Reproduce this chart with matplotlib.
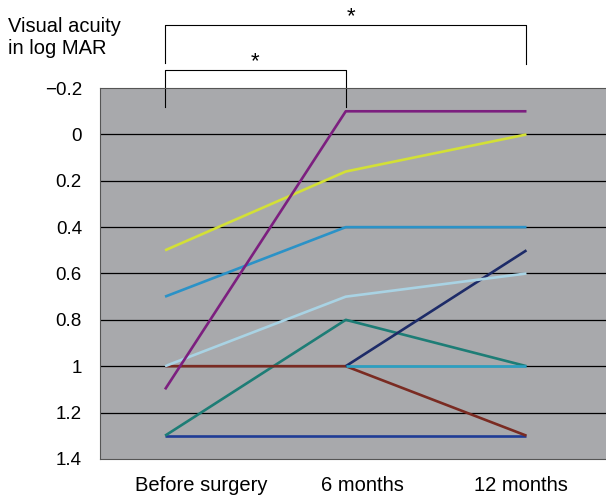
import numpy as np
import matplotlib.pyplot as plt

plt.rcParams["font.family"] = ["Liberation Sans", "DejaVu Sans"]

# time points
categories = ["Before surgery", "6 months", "12 months"]
label_pos = [0.2, 1.09, 1.97]  # labels sit a little off the data columns

# logMAR per eye (nan = not drawn)
purple = [1.1, -0.1, -0.1]
yellow = [0.5, 0.16, 0.0]
blue = [0.7, 0.4, 0.4]
light_blue = [1.0, 0.7, 0.6]
teal = [1.3, 0.8, 1.0]
brown = [1.0, 1.0, 1.3]
navy = [np.nan, 1.0, 0.5]
cyan = [np.nan, 1.0, 1.0]
dark_blue = [1.3, 1.3, 1.3]

yticks = [-0.2, 0, 0.2, 0.4, 0.6, 0.8, 1, 1.2, 1.4]
ytick_labels = ["\u22120.2", "0", "0.2", "0.4", "0.6", "0.8", "1", "1.2", "1.4"]

series = [
    (dark_blue, "#1f3c96"),
    (teal, "#1d7d76"),
    (brown, "#7a2b22"),
    (navy, "#1d2b68"),
    (cyan, "#2aa0c2"),
    (light_blue, "#a9d3e4"),
    (blue, "#2b92c7"),
    (yellow, "#d3e036"),
    (purple, "#7c1f7f"),
]

fig = plt.figure(figsize=(6.06, 4.95), dpi=100)
ax = fig.add_axes([0.165, 0.073, 0.835, 0.749])
ax.set_facecolor("#a8a9ac")

x = np.arange(len(categories))
for vals, col in series:
    ax.plot(x, vals, color=col, lw=1.9, solid_capstyle="butt", zorder=3)

ax.set_ylim(1.4, -0.2)
ax.set_xlim(-0.36, 2.44)
ax.set_yticks(yticks)
ax.set_yticklabels(ytick_labels)
ax.set_xticks(label_pos)
ax.set_xticklabels(categories)
ax.tick_params(length=0)
ax.tick_params(axis="y", labelsize=13.5, pad=13)
ax.tick_params(axis="x", labelsize=14.5, pad=12)
for t in yticks[1:-1]:
    ax.axhline(t, color="black", lw=0.9, zorder=1)
ax.spines["right"].set_visible(False)
for s in ["left", "bottom", "top"]:
    ax.spines[s].set_color("#555555")
    ax.spines[s].set_linewidth(0.8)

# significance brackets
ax.plot([0, 0, 2, 2], [-0.31, -0.474, -0.474, -0.306], color="black", lw=0.8,
        clip_on=False)
ax.text(1.03, -0.508, "*", ha="center", va="center", fontsize=16)
ax.plot([0, 0, 1, 1], [-0.12, -0.28, -0.28, -0.12], color="black", lw=0.8,
        clip_on=False)
ax.text(0.5, -0.313, "*", ha="center", va="center", fontsize=16)

fig.text(0.013, 0.965, "Visual acuity\nin log MAR", ha="left", va="top",
         fontsize=14.5, linespacing=1.15)

fig.savefig("out.png", dpi=100)
